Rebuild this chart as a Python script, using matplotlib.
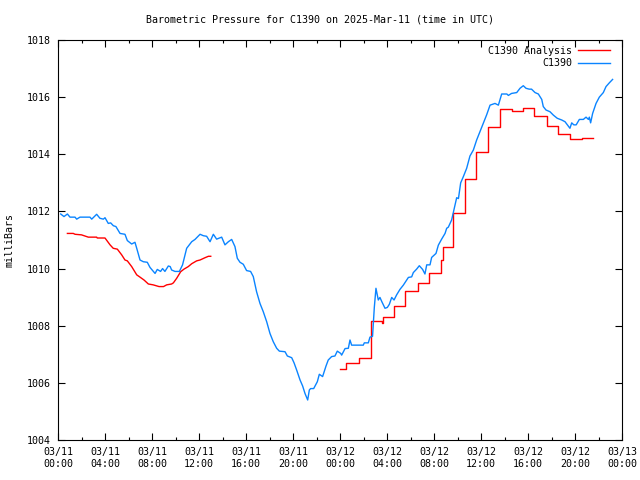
import matplotlib
matplotlib.use("Agg")
import matplotlib.pyplot as plt
import matplotlib.dates as mdates
import pandas as pd

# hours after 2025-03-11 00:00 UTC
station_hours = [
    0.23, 0.51, 0.8, 1.02, 1.45, 1.59, 1.87, 2.72, 2.87, 3.29, 3.57, 3.86, 4.0, 4.28, 4.48,
    4.71, 4.93, 5.28, 5.7, 5.9, 6.27, 6.55, 6.7, 6.98, 7.26, 7.6, 7.83, 8.26, 8.45, 8.73,
    8.9, 9.1, 9.39, 9.55, 9.67, 9.96, 10.33, 10.6, 10.95, 11.38, 11.66, 12.09, 12.37, 12.65,
    12.94, 13.22, 13.5, 13.93, 14.21, 14.5, 14.78, 15.06, 15.26, 15.49, 15.77, 16.05, 16.39,
    16.62, 16.9, 17.19, 17.47, 17.76, 18.04, 18.32, 18.61, 18.84, 19.32, 19.52, 19.89, 20.09,
    20.31, 20.6, 20.82, 21.02, 21.25, 21.39, 21.5, 21.76, 22.07, 22.24, 22.52, 22.81, 23.0,
    23.29, 23.57, 23.77, 24.06, 24.14, 24.43, 24.71, 24.85, 24.99, 25.98, 26.07, 26.41, 26.55,
    26.77, 26.92, 27.06, 27.26, 27.4, 27.55, 27.83, 28.03, 28.2, 28.4, 28.6, 28.82, 29.1,
    29.39, 29.82, 30.1, 30.24, 30.52, 30.75, 31.03, 31.23, 31.38, 31.66, 31.8, 32.17, 32.37,
    32.65, 32.94, 33.08, 33.22, 33.5, 33.79, 33.93, 34.08, 34.27, 34.5, 34.78, 35.06, 35.35,
    35.63, 35.91, 36.2, 36.48, 36.77, 37.19, 37.48, 37.76, 38.2, 38.33, 38.6, 39.04, 39.32,
    39.6, 39.83, 40.1, 40.3, 40.6, 40.88, 41.17, 41.3, 41.53, 41.87, 42.16, 42.49, 42.87,
    43.15, 43.3, 43.57, 43.72, 43.9, 44.1, 44.37, 44.71, 44.94, 45.14, 45.22, 45.33, 45.5,
    45.79, 46.07, 46.41, 46.64, 46.92, 47.2]
station_mb = [
    1011.91, 1011.82, 1011.91, 1011.8, 1011.8, 1011.73, 1011.8, 1011.8, 1011.73, 1011.9,
    1011.76, 1011.73, 1011.78, 1011.58, 1011.6, 1011.5, 1011.47, 1011.23, 1011.2, 1010.98,
    1010.86, 1010.92, 1010.71, 1010.3, 1010.24, 1010.22, 1010.04, 1009.83, 1009.97, 1009.9,
    1010.0, 1009.9, 1010.09, 1010.07, 1009.95, 1009.9, 1009.9, 1010.13, 1010.71, 1010.94,
    1011.02, 1011.2, 1011.15, 1011.13, 1010.94, 1011.2, 1011.03, 1011.1, 1010.83, 1010.94,
    1011.02, 1010.77, 1010.36, 1010.22, 1010.15, 1009.93, 1009.9, 1009.72, 1009.19, 1008.78,
    1008.49, 1008.14, 1007.73, 1007.44, 1007.21, 1007.11, 1007.09, 1006.94, 1006.88, 1006.7,
    1006.45, 1006.1, 1005.89, 1005.63, 1005.4, 1005.75, 1005.8, 1005.8, 1006.04, 1006.3,
    1006.22, 1006.59, 1006.8, 1006.92, 1006.94, 1007.11, 1007.03, 1006.97, 1007.2, 1007.21,
    1007.5, 1007.32, 1007.32, 1007.4, 1007.4, 1007.6, 1007.63, 1008.64, 1009.31, 1008.9,
    1008.99, 1008.85, 1008.61, 1008.64, 1008.75, 1008.99, 1008.9, 1009.08, 1009.27, 1009.42,
    1009.69, 1009.71, 1009.86, 1009.98, 1010.1, 1009.97, 1009.81, 1010.13, 1010.13, 1010.39,
    1010.53, 1010.82, 1011.03, 1011.23, 1011.41, 1011.45, 1011.7, 1012.22, 1012.48, 1012.45,
    1013.0, 1013.22, 1013.51, 1013.94, 1014.15, 1014.5, 1014.79, 1015.08, 1015.38, 1015.72,
    1015.78, 1015.72, 1016.11, 1016.11, 1016.06, 1016.13, 1016.16, 1016.31, 1016.4, 1016.31,
    1016.28, 1016.28, 1016.16, 1016.11, 1015.92, 1015.67, 1015.55, 1015.49, 1015.37, 1015.26,
    1015.2, 1015.14, 1015.06, 1014.91, 1015.1, 1015.03, 1015.03, 1015.22, 1015.22, 1015.3,
    1015.22, 1015.3, 1015.1, 1015.43, 1015.78, 1016.0, 1016.16, 1016.37, 1016.5, 1016.62]

# analysis, first day (smooth part)
analysis_hours_a = [
    0.8, 1.3, 1.45, 2.0, 2.58, 3.29, 3.34, 4.0, 4.43, 4.7, 5.05, 5.42, 5.7, 5.9, 6.27, 6.7,
    6.98, 7.32, 7.69, 8.1, 8.6, 8.98, 9.25, 9.67, 9.82, 10.1, 10.44, 10.72, 11.09, 11.38,
    11.8, 12.09, 12.51, 12.8, 13.0]
analysis_mb_a = [
    1011.23, 1011.23, 1011.2, 1011.18, 1011.1, 1011.1, 1011.07, 1011.07, 1010.83, 1010.71,
    1010.68, 1010.48, 1010.3, 1010.27, 1010.07, 1009.78, 1009.7, 1009.6, 1009.46, 1009.43,
    1009.37, 1009.37, 1009.43, 1009.46, 1009.5, 1009.66, 1009.89, 1009.98, 1010.07, 1010.17,
    1010.27, 1010.3, 1010.38, 1010.43, 1010.43]

# analysis, second day (hourly steps)
analysis_hours_b = [
    24.0, 24.5, 25.6, 26.65, 27.6, 27.68, 28.6, 29.55, 30.6, 31.6, 32.6, 32.75, 33.6, 34.6,
    35.55, 36.6, 37.6, 38.65, 39.55, 40.55, 41.65, 42.55, 43.6, 44.6, 45.56]
analysis_mb_b = [
    1006.47, 1006.68, 1006.88, 1008.16, 1008.11, 1008.31, 1008.68, 1009.2, 1009.48, 1009.83,
    1010.3, 1010.74, 1011.93, 1013.12, 1014.09, 1014.97, 1015.57, 1015.5, 1015.61, 1015.34,
    1014.99, 1014.71, 1014.52, 1014.56, 1014.56]

base = pd.Timestamp("2025-03-11 00:00")
def to_time(hours):
    return base + pd.to_timedelta(hours, unit="h")

plt.rcParams['font.family'] = ['DejaVu Sans Mono']
fs = 7.2

fig = plt.figure(figsize=(6.4, 4.8), dpi=100)
ax = fig.add_axes([58 / 640, 40 / 480, 564 / 640, 400 / 480])

red = '#ff0000'
blue = '#0a84ff'
ax.plot(to_time(analysis_hours_a), analysis_mb_a, color=red, lw=1.0, label='C1390 Analysis')
ax.plot(to_time(analysis_hours_b), analysis_mb_b, color=red, lw=1.0, drawstyle='steps-post')
ax.plot(to_time(station_hours), station_mb, color=blue, lw=1.0, label='C1390')

ax.set_xlim(base, base + pd.Timedelta(hours=48))
ax.set_ylim(1004, 1018)
ax.set_yticks(range(1004, 1019, 2))
ax.xaxis.set_major_locator(mdates.HourLocator(byhour=range(0, 24, 4)))
ax.xaxis.set_minor_locator(mdates.HourLocator(byhour=range(0, 24, 2)))
ax.xaxis.set_major_formatter(mdates.DateFormatter('%m/%d\n%H:%M'))

ax.tick_params(which='both', direction='in', top=True, right=True, labelsize=fs, pad=5)
ax.tick_params(which='major', length=5, width=0.8)
ax.tick_params(which='minor', length=2.5, width=0.8)
for s in ax.spines.values():
    s.set_linewidth(0.8)

fig.text(0.5, 1 - 20 / 480, 'Barometric Pressure for C1390 on 2025-Mar-11 (time in UTC)',
         ha='center', va='center', fontsize=fs)
fig.text(10 / 640, 0.5, 'milliBars', rotation=90, ha='center', va='center', fontsize=fs)

ax.legend(loc='upper right', frameon=False, markerfirst=False, fontsize=fs,
          handlelength=3.2, handletextpad=0.6, labelspacing=0.25,
          borderaxespad=0.2, bbox_to_anchor=(0.99, 1.0))

fig.savefig('out.png', dpi=100)
